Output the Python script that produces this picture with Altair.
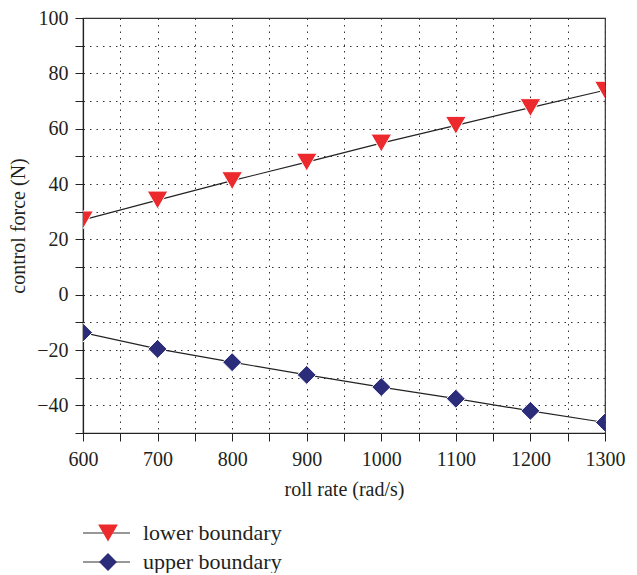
import altair as alt
import pandas as pd

roll_rate = [600, 700, 800, 900, 1000, 1100, 1200, 1300]
lower = [27.0, 34.2, 41.2, 47.9, 54.8, 61.2, 67.6, 73.9]
upper = [-13.7, -19.6, -24.4, -29.0, -33.4, -37.6, -42.0, -46.2]
series_names = ["lower boundary", "upper boundary"]
colors = ["#EC2A2E", "#2B2C7A"]
shapes = ["triangle-down", "diamond"]
sizes = [430, 360]
x_ticks = list(range(600, 1301, 50))
y_ticks = list(range(-50, 101, 10))

FONT = "Liberation Serif"
INK = "#231f20"

rows = []
for name, vals in zip(series_names, [lower, upper]):
    for x, y in zip(roll_rate, vals):
        rows.append({"roll": x, "force": y, "series": name})
df = pd.DataFrame(rows)

x_enc = alt.X(
    "roll:Q",
    scale=alt.Scale(domain=[600, 1300], nice=False, zero=False),
    axis=alt.Axis(
        values=x_ticks,
        title="roll rate (rad/s)",
        labelExpr="datum.value % 100 == 0 ? datum.label : ''",
        format="d",
        labelFlush=False,
        labelPadding=8,
        titlePadding=10,
    ),
)
y_enc = alt.Y(
    "force:Q",
    scale=alt.Scale(domain=[-50, 100], nice=False, zero=False),
    axis=alt.Axis(
        values=y_ticks,
        title="control force (N)",
        labelExpr="datum.value % 20 == 0 ? replace(format(datum.value, 'd'), '-', '\u2212') : ''",
        labelFlush=False,
        labelPadding=7,
        titlePadding=8,
    ),
)

lines = alt.Chart(df).mark_line(color="#222222", strokeWidth=1.2, clip=True).encode(
    x=x_enc, y=y_enc, detail="series:N"
)

points = alt.Chart(df).mark_point(
    filled=True, opacity=1, clip=True, stroke="white", strokeWidth=1
).encode(
    x=x_enc,
    y=y_enc,
    color=alt.Color("series:N", scale=alt.Scale(domain=series_names, range=colors), legend=None),
    fill=alt.Fill("series:N", scale=alt.Scale(domain=series_names, range=colors), legend=None),
    shape=alt.Shape("series:N", scale=alt.Scale(domain=series_names, range=shapes), legend=None),
    size=alt.Size("series:N", scale=alt.Scale(domain=series_names, range=sizes), legend=None),
)

legend_layers = []
legend_y = [515, 544]
for name, col, shp, sz, ly in zip(series_names, colors, shapes, sizes, legend_y):
    ldf = pd.DataFrame({"label": [name]})
    legend_layers.append(
        alt.Chart(ldf).mark_rule(color="#333333", strokeWidth=1.2).encode(
            x=alt.value(0), x2=alt.value(47), y=alt.value(ly)
        )
    )
    legend_layers.append(
        alt.Chart(ldf).mark_point(shape=shp, filled=True, opacity=1, color=col, size=sz - 40).encode(
            x=alt.value(25), y=alt.value(ly)
        )
    )
    legend_layers.append(
        alt.Chart(ldf).mark_text(align="left", baseline="middle", font=FONT, fontSize=22, color=INK).encode(
            x=alt.value(60), y=alt.value(ly), text="label:N"
        )
    )

chart = alt.layer(lines, points, *legend_layers).properties(
    width=522, height=415,
    autosize=alt.AutoSizeParams(type="none"),
    padding={"left": 75, "top": 10, "right": 24, "bottom": 140},
).configure_view(
    stroke="#333333", strokeWidth=1.2
).configure_axis(
    labelFont=FONT, labelFontSize=20, labelColor=INK,
    titleFont=FONT, titleFontSize=20, titleColor=INK, titleFontWeight="normal",
    domainColor="#222222", domainWidth=1.2,
    tickColor="#222222", tickWidth=1, tickSize=8,
    grid=True, gridColor="#333333", gridDash=[1.5, 5], gridWidth=1,
)

chart.save("out.html", embed_options={"renderer": "svg", "actions": False})
